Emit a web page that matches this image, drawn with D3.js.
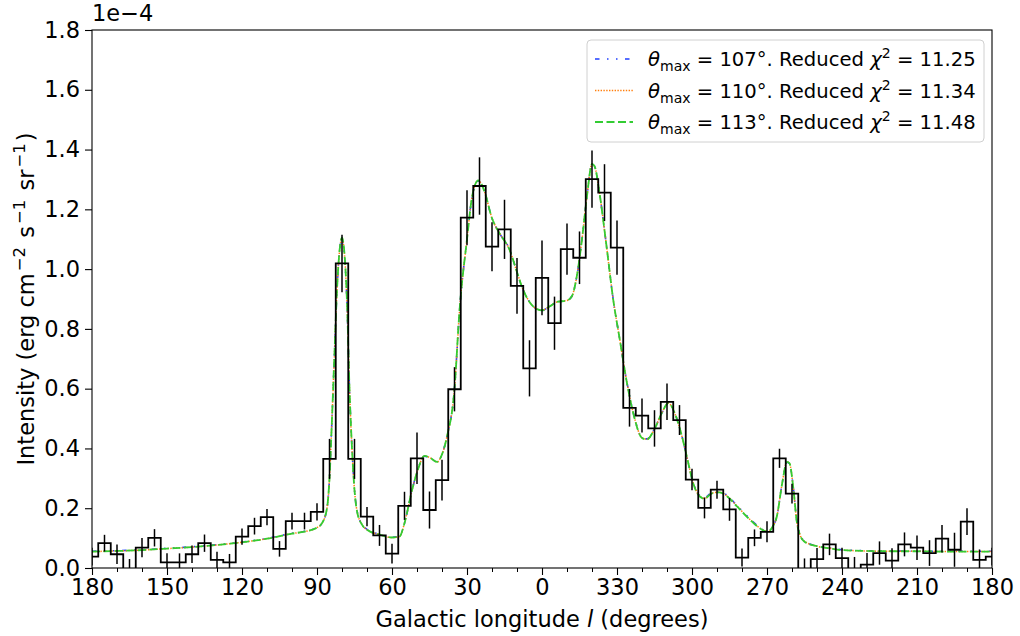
<!DOCTYPE html>
<html>
<head>
<meta charset="utf-8">
<script src="https://cdn.jsdelivr.net/npm/d3@7"></script>
<style>
  body { margin: 0; background: #fff; }
  svg text { font-family: "DejaVu Sans", sans-serif; fill: #000; }
</style>
</head>
<body>
<svg id="chart" width="1020" height="636"></svg>
<script>
// Galactic longitude of each 5 degree bin (180 .. -180, shown as 180 .. 0 .. 330 .. 180)
var lon = [180, 175, 170, 165, 160, 155, 150, 145, 140, 135, 130, 125, 120, 115, 110, 105,
  100, 95, 90, 85, 80, 75, 70, 65, 60, 55, 50, 45, 40, 35, 30, 25, 20, 15, 10, 5, 0,
  -5, -10, -15, -20, -25, -30, -35, -40, -45, -50, -55, -60, -65, -70, -75, -80, -85,
  -90, -95, -100, -105, -110, -115, -120, -125, -130, -135, -140, -145, -150, -155,
  -160, -165, -170, -175, -180];

// measured intensity per bin, units of 1e-4 erg cm^-2 s^-1 sr^-1
var intensity = [0.038, 0.083, 0.046, -0.005, 0.068, 0.101, 0.019, 0.019, 0.046, 0.083,
  0.027, 0.019, 0.105, 0.140, 0.170, 0.064, 0.157, 0.157, 0.188, 0.365, 1.019, 0.365,
  0.172, 0.109, 0.048, 0.208, 0.367, 0.194, 0.294, 0.598, 1.172, 1.278, 1.075, 1.133,
  0.944, 0.668, 0.971, 0.819, 1.067, 1.038, 1.301, 1.256, 1.072, 0.536, 0.510, 0.467,
  0.556, 0.495, 0.296, 0.201, 0.262, 0.196, 0.035, 0.101, 0.121, 0.367, 0.249, -0.003,
  0.030, 0.079, 0.033, -0.003, 0.011, 0.050, 0.025, 0.079, 0.068, 0.050, 0.098, 0.061,
  0.155, 0.027, 0.038];

// 1 sigma uncertainty per bin, same units
var sigma = [0.030, 0.028, 0.033, 0.035, 0.032, 0.029, 0.030, 0.030, 0.029, 0.029,
  0.027, 0.028, 0.027, 0.028, 0.027, 0.026, 0.028, 0.028, 0.029, 0.067, 0.096, 0.067,
  0.032, 0.035, 0.033, 0.047, 0.086, 0.062, 0.068, 0.074, 0.092, 0.096, 0.082, 0.099,
  0.093, 0.094, 0.125, 0.089, 0.086, 0.088, 0.096, 0.095, 0.091, 0.063, 0.057, 0.061,
  0.061, 0.050, 0.036, 0.035, 0.030, 0.038, 0.030, 0.028, 0.035, 0.032, 0.033, 0.035,
  0.037, 0.036, 0.035, 0.040, 0.039, 0.039, 0.041, 0.040, 0.041, 0.043, 0.046, 0.057,
  0.045, 0.035, 0.030];

// model longitudes (denser around the peaks)
var modelLon = [180, 170, 160, 150, 140, 130, 120, 110, 100, 95, 90, 88, 86, 85, 84, 83,
  82, 81, 80, 79, 78, 77, 76, 75, 74, 72, 70, 65, 60, 57, 55, 52, 50, 47, 45, 42, 40, 38,
  35, 33, 30, 28, 25.5, 23, 20, 17, 13, 10, 8, 5, 2, 0, -3, -6, -10, -12, -14, -16, -18,
  -20, -21, -23, -25, -26, -28.5, -31, -34, -36.5, -40, -42, -45, -48, -50.5, -53, -56,
  -58, -60.5, -63, -65, -68, -71, -74, -78, -84, -88, -90.5, -92, -94, -96, -98, -99,
  -100.5, -102, -103, -105, -110, -115, -120, -130, -140, -150, -160, -170, -180];

// model intensity for theta_max = 107 deg
var model107 = [0.056, 0.058, 0.061, 0.066, 0.071, 0.078, 0.087, 0.099, 0.116, 0.123,
  0.136, 0.150, 0.200, 0.300, 0.500, 0.720, 0.930, 1.060, 1.100, 1.045, 0.885, 0.600,
  0.400, 0.262, 0.192, 0.147, 0.129, 0.113, 0.103, 0.106, 0.150, 0.260, 0.320, 0.374,
  0.369, 0.356, 0.381, 0.441, 0.600, 0.860, 1.100, 1.240, 1.295, 1.258, 1.170, 1.120,
  1.066, 0.990, 0.940, 0.890, 0.866, 0.862, 0.875, 0.890, 0.895, 0.910, 0.980, 1.100,
  1.245, 1.350, 1.343, 1.255, 1.130, 1.064, 0.897, 0.770, 0.620, 0.520, 0.437, 0.432,
  0.466, 0.520, 0.551, 0.520, 0.440, 0.370, 0.285, 0.243, 0.235, 0.253, 0.256, 0.243,
  0.209, 0.158, 0.130, 0.122, 0.135, 0.175, 0.280, 0.354, 0.349, 0.270, 0.152, 0.117,
  0.090, 0.074, 0.067, 0.061, 0.058, 0.057, 0.056, 0.056, 0.056, 0.056];

// model intensity for theta_max = 110 deg
var model110 = [0.055, 0.057, 0.060, 0.065, 0.070, 0.077, 0.086, 0.098, 0.115, 0.122,
  0.135, 0.150, 0.200, 0.300, 0.500, 0.720, 0.930, 1.060, 1.103, 1.048, 0.888, 0.600,
  0.400, 0.261, 0.191, 0.146, 0.128, 0.112, 0.102, 0.105, 0.150, 0.260, 0.320, 0.375,
  0.370, 0.355, 0.380, 0.440, 0.600, 0.860, 1.100, 1.240, 1.296, 1.259, 1.170, 1.120,
  1.065, 0.990, 0.940, 0.890, 0.866, 0.862, 0.875, 0.890, 0.895, 0.910, 0.980, 1.100,
  1.245, 1.351, 1.344, 1.255, 1.130, 1.064, 0.897, 0.770, 0.619, 0.519, 0.436, 0.431,
  0.465, 0.520, 0.552, 0.520, 0.440, 0.370, 0.284, 0.241, 0.233, 0.251, 0.254, 0.241,
  0.207, 0.156, 0.129, 0.121, 0.135, 0.175, 0.280, 0.355, 0.350, 0.270, 0.151, 0.116,
  0.089, 0.073, 0.066, 0.060, 0.057, 0.056, 0.056, 0.055, 0.055, 0.055];

// model intensity for theta_max = 113 deg
var model113 = [0.055, 0.057, 0.060, 0.065, 0.070, 0.077, 0.086, 0.098, 0.115, 0.122,
  0.135, 0.150, 0.200, 0.300, 0.500, 0.720, 0.930, 1.060, 1.105, 1.050, 0.890, 0.600,
  0.400, 0.260, 0.190, 0.145, 0.128, 0.112, 0.102, 0.105, 0.150, 0.260, 0.320, 0.375,
  0.370, 0.355, 0.380, 0.440, 0.600, 0.860, 1.100, 1.240, 1.297, 1.260, 1.170, 1.120,
  1.065, 0.990, 0.940, 0.890, 0.866, 0.862, 0.875, 0.890, 0.895, 0.910, 0.980, 1.100,
  1.245, 1.352, 1.345, 1.255, 1.130, 1.064, 0.897, 0.770, 0.618, 0.518, 0.435, 0.430,
  0.465, 0.520, 0.552, 0.520, 0.440, 0.370, 0.283, 0.240, 0.232, 0.250, 0.253, 0.240,
  0.206, 0.155, 0.128, 0.121, 0.135, 0.175, 0.280, 0.355, 0.350, 0.270, 0.150, 0.115,
  0.088, 0.073, 0.066, 0.060, 0.057, 0.056, 0.056, 0.055, 0.055, 0.055];

var xTicks = [180, 150, 120, 90, 60, 30, 0, -30, -60, -90, -120, -150, -180];
var xMinorTicks = [170, 160, 140, 130, 110, 100, 80, 70, 50, 40, 20, 10, -10, -20, -40,
  -50, -70, -80, -100, -110, -130, -140, -160, -170];
var yTicks = [0, 0.2, 0.4, 0.6, 0.8, 1.0, 1.2, 1.4, 1.6, 1.8];

var models = [
  { theta: '107', chi2: '11.25', values: model107, color: '#1f3fff', dash: '4.5,7.5,1.5,7.5,1.5,7.5', width: 1.6 },
  { theta: '110', chi2: '11.34', values: model110, color: '#ff7f0e', dash: '1.4,1.4', width: 1.5 },
  { theta: '113', chi2: '11.48', values: model113, color: '#33cc33', dash: '8,3.5', width: 1.8 },
];

var labelSize = '22.5px';
var margin = { left: 92, top: 30, right: 28, bottom: 68 };
var width = 1020 - margin.left - margin.right;
var height = 636 - margin.top - margin.bottom;

var svg = d3.select('#chart');
var g = svg.append('g').attr('transform', 'translate(' + margin.left + ',' + margin.top + ')');

var x = d3.scaleLinear().domain([180, -180]).range([0, width]);
var y = d3.scaleLinear().domain([0, 1.8]).range([height, 0]);

svg.append('defs').append('clipPath').attr('id', 'plot-clip')
  .append('rect').attr('width', width).attr('height', height);

var plot = g.append('g').attr('clip-path', 'url(#plot-clip)');

// model curves, green drawn last so it sits on top
models.forEach(function(m) {
  var pts = modelLon.map(function(l, i) { return [l, m.values[i]]; });
  plot.append('path')
    .datum(pts)
    .attr('fill', 'none')
    .attr('stroke', m.color)
    .attr('stroke-width', m.width)
    .attr('stroke-dasharray', m.dash)
    .attr('d', d3.line()
      .x(function(d) { return x(d[0]); })
      .y(function(d) { return y(d[1]); })
      .curve(d3.curveMonotoneX));
});

// binned data as a mid-step histogram
var bins = lon.map(function(l, i) { return { l: l, v: intensity[i], e: sigma[i] }; });
plot.append('path')
  .datum(bins)
  .attr('fill', 'none')
  .attr('stroke', '#000')
  .attr('stroke-width', 1.8)
  .attr('d', d3.line()
    .x(function(d) { return x(d.l); })
    .y(function(d) { return y(d.v); })
    .curve(d3.curveStep));

plot.selectAll('line.err')
  .data(bins)
  .enter().append('line')
  .attr('class', 'err')
  .attr('x1', function(d) { return x(d.l); })
  .attr('x2', function(d) { return x(d.l); })
  .attr('y1', function(d) { return y(d.v - d.e); })
  .attr('y2', function(d) { return y(d.v + d.e); })
  .attr('stroke', '#000')
  .attr('stroke-width', 1.5);

// frame
g.append('rect')
  .attr('width', width).attr('height', height)
  .attr('fill', 'none').attr('stroke', '#000').attr('stroke-width', 1.1);

// axes
var xAxis = g.append('g').attr('transform', 'translate(0,' + height + ')')
  .call(d3.axisBottom(x).tickValues(xTicks).tickSize(7).tickPadding(4)
    .tickFormat(function(d) { return d < 0 ? d + 360 : d; }));
g.append('g').attr('transform', 'translate(0,' + height + ')')
  .call(d3.axisBottom(x).tickValues(xMinorTicks).tickSize(4).tickFormat(''))
  .select('.domain').remove();
var yAxis = g.append('g')
  .call(d3.axisLeft(y).tickValues(yTicks).tickSize(7).tickPadding(5)
    .tickFormat(d3.format('.1f')));

[xAxis, yAxis].forEach(function(a) {
  a.select('.domain').remove();
  a.selectAll('.tick line').attr('stroke-width', 1.1);
  a.selectAll('.tick text').style('font-size', labelSize);
});
g.selectAll('.tick line').attr('stroke', '#000');

// scale factor shown above the y axis
g.append('text')
  .attr('x', 0).attr('y', -9)
  .style('font-size', labelSize)
  .text('1e\u22124');

// axis titles
var xTitle = g.append('text')
  .attr('x', width / 2).attr('y', height + 59)
  .attr('text-anchor', 'middle')
  .style('font-size', labelSize);
xTitle.append('tspan').text('Galactic longitude ');
xTitle.append('tspan').style('font-style', 'italic').text('l');
xTitle.append('tspan').text(' (degrees)');

var yTitle = g.append('text')
  .attr('transform', 'translate(-58,' + (height / 2) + ') rotate(-90)')
  .attr('text-anchor', 'middle')
  .style('font-size', labelSize);
yTitle.append('tspan').text('Intensity (erg cm');
yTitle.append('tspan').attr('dx', 2).attr('dy', -9).style('font-size', '16.5px').text('\u22122');
yTitle.append('tspan').attr('dx', 2).attr('dy', 9).text(' s');
yTitle.append('tspan').attr('dx', 2).attr('dy', -9).style('font-size', '16.5px').text('\u22121');
yTitle.append('tspan').attr('dx', 2).attr('dy', 9).text(' sr');
yTitle.append('tspan').attr('dx', 2).attr('dy', -9).style('font-size', '16.5px').text('\u22121');
yTitle.append('tspan').attr('dx', 2).attr('dy', 9).text(')');

// legend
var legend = g.append('g').attr('transform', 'translate(' + (587 - margin.left) + ',' + (40 - margin.top) + ')');
legend.append('rect')
  .attr('width', 397).attr('height', 102)
  .attr('rx', 4).attr('ry', 4)
  .attr('fill', '#fff').attr('fill-opacity', 0.8)
  .attr('stroke', '#d0d0d0').attr('stroke-width', 1);

models.forEach(function(m, i) {
  var cy = 19 + i * 31.5;
  legend.append('line')
    .attr('x1', 8).attr('x2', 46)
    .attr('y1', cy).attr('y2', cy)
    .attr('stroke', m.color)
    .attr('stroke-width', m.width)
    .attr('stroke-dasharray', m.dash);
  var t = legend.append('text')
    .attr('x', 61).attr('y', cy + 7)
    .style('font-size', '19.6px');
  t.append('tspan').style('font-style', 'italic').text('\u03b8');
  t.append('tspan').attr('dy', 5).style('font-size', '14px').text('max');
  t.append('tspan').attr('dy', -5).text(' = ' + m.theta + '\u00b0. Reduced ');
  t.append('tspan').style('font-style', 'italic').text('\u03c7');
  t.append('tspan').attr('dy', -8).style('font-size', '14px').text('2');
  t.append('tspan').attr('dy', 8).text(' = ' + m.chi2);
});
</script>
</body>
</html>
